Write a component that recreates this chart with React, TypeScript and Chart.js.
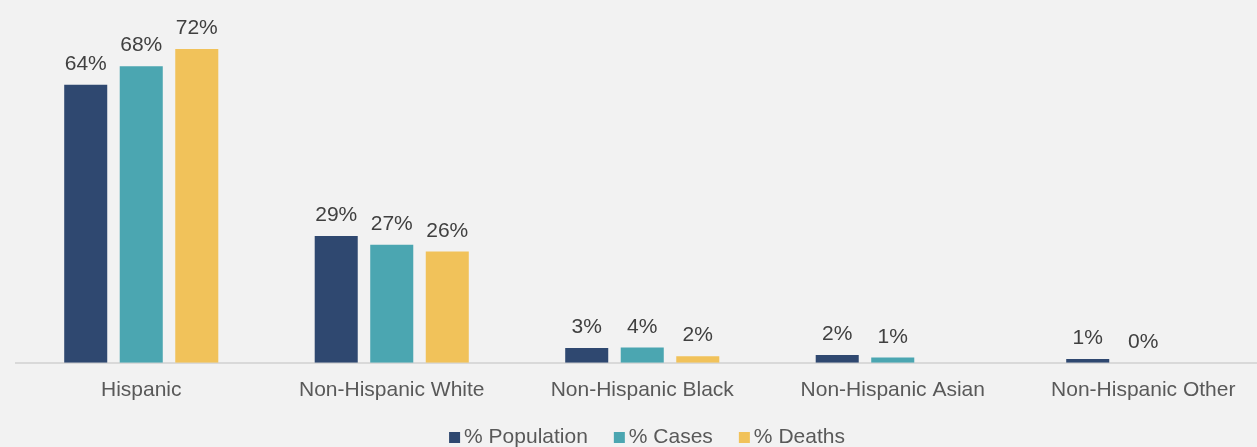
import React, { useEffect, useRef } from "react";
import { Chart, registerables } from "chart.js";

Chart.register(...registerables);

const categories = [
  "Hispanic",
  "Non-Hispanic White",
  "Non-Hispanic Black",
  "Non-Hispanic Asian",
  "Non-Hispanic Other",
];
const populationValues = [63.8, 29.1, 3.4, 1.8, 0.9];
const casesValues = [68.0, 27.1, 3.5, 1.2, 0];
const deathsValues: (number | null)[] = [72.0, 25.5, 1.5, null, null];
const seriesNames = ["% Population", "% Cases", "% Deaths"];
const seriesColors = ["#2f4870", "#4ba6b1", "#f1c25a"];

const FONT = '"Liberation Sans", Arial, sans-serif';

const dataLabelPlugin = {
  id: "dataLabels",
  afterDatasetsDraw(chart: any) {
    const ctx = chart.ctx;
    ctx.save();
    ctx.font = `21px ${FONT}`;
    ctx.fillStyle = "#404040";
    ctx.textAlign = "center";
    ctx.textBaseline = "alphabetic";
    chart.data.datasets.forEach((ds: any, i: number) => {
      const meta = chart.getDatasetMeta(i);
      meta.data.forEach((el: any, j: number) => {
        const v = ds.data[j];
        if (v === null || v === undefined) return;
        ctx.fillText(Math.round(v) + "%", el.x, el.y - 15);
      });
    });
    ctx.restore();
  },
};

const legendPlugin = {
  id: "customLegend",
  afterDraw(chart: any) {
    const ctx = chart.ctx;
    ctx.save();
    ctx.font = `21px ${FONT}`;
    const box = 11;
    const gapBoxText = 4;
    const gapItems = 26;
    const widths = seriesNames.map((n) => ctx.measureText(n).width);
    const total =
      widths.reduce((a, b) => a + b, 0) +
      seriesNames.length * (box + gapBoxText) +
      gapItems * (seriesNames.length - 1);
    let x = 647 - total / 2;
    const baseline = 443;
    seriesNames.forEach((n, i) => {
      ctx.fillStyle = seriesColors[i];
      ctx.fillRect(x, baseline - box, box, box);
      x += box + gapBoxText;
      ctx.fillStyle = "#595959";
      ctx.textAlign = "left";
      ctx.textBaseline = "alphabetic";
      ctx.fillText(n, x, baseline);
      x += widths[i] + gapItems;
    });
    ctx.restore();
  },
};

export default function App() {
  const canvasRef = useRef<HTMLCanvasElement | null>(null);

  useEffect(() => {
    if (!canvasRef.current) return;
    const chart = new Chart(canvasRef.current, {
      type: "bar",
      data: {
        labels: categories,
        datasets: [
          { label: seriesNames[0], data: populationValues, backgroundColor: seriesColors[0] },
          { label: seriesNames[1], data: casesValues, backgroundColor: seriesColors[1] },
          { label: seriesNames[2], data: deathsValues, backgroundColor: seriesColors[2] },
        ],
      },
      options: {
        responsive: false,
        animation: false,
        datasets: {
          bar: { categoryPercentage: 0.665, barPercentage: 0.775 },
        },
        layout: { padding: { top: 14, left: 16, right: 21.5, bottom: 29 } },
        plugins: {
          legend: { display: false },
          tooltip: { enabled: false },
        },
        scales: {
          x: {
            grid: { display: false, drawTicks: false },
            border: { display: true, color: "#d9d9d9", width: 2 },
            ticks: {
              color: "#595959",
              font: { family: FONT, size: 21 },
              padding: 15,
              maxRotation: 0,
              autoSkip: false,
            },
          },
          y: {
            display: false,
            min: 0,
            max: 80,
          },
        },
      },
      plugins: [dataLabelPlugin, legendPlugin],
    });
    return () => chart.destroy();
  }, []);

  return (
    <div
      style={{
        position: "fixed",
        left: 0,
        top: 0,
        width: "1257px",
        height: "447px",
        overflow: "hidden",
        background: "#f2f2f2",
      }}
    >
      <canvas
        ref={canvasRef}
        width={1290}
        height={447}
        style={{ display: "block", width: "1290px", height: "447px" }}
      />
    </div>
  );
}
